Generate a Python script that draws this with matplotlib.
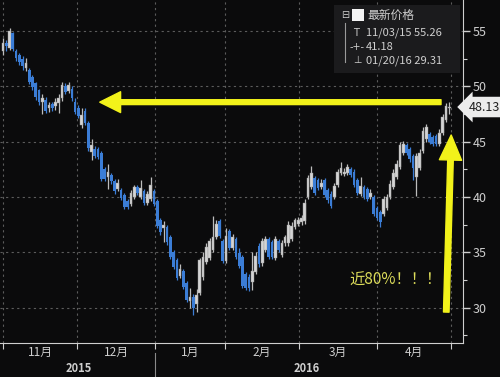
import numpy as np
import matplotlib
matplotlib.use("Agg")
import matplotlib.pyplot as plt
import matplotlib.transforms as mtrans
from matplotlib.patches import Rectangle

plt.rcParams['font.family'] = ['Noto Sans CJK SC', 'DejaVu Sans']

# daily candles, 2015-11-02 .. 2016-04-28
opens = [53.2, 53.9, 53.5, 54.8, 53.2, 52.8, 52.5, 51.7, 51.5, 50.8, 50.3, 49.7, 48.6, 48.8, 48.0, 48.4, 48.2, 48.5,
         48.9, 50.0, 49.6, 49.8, 48.6, 48.0, 46.5, 47.8, 46.7, 44.1, 44.3, 44.3, 44.0, 42.5, 41.8, 42.0, 41.4, 40.7,
         40.6, 40.2, 39.6, 39.4, 40.0, 40.9, 40.0, 40.5, 39.5, 39.8, 40.5, 39.6, 37.9, 37.2, 37.3, 36.4, 35.0, 34.3,
         32.9, 33.3, 32.2, 30.6, 31.0, 30.3, 31.3, 32.8, 34.1, 34.5, 35.2, 36.4, 37.8, 36.0, 34.2, 36.9, 35.4, 36.2,
         34.9, 34.6, 33.0, 32.8, 32.3, 33.2, 35.6, 34.0, 35.2, 36.2, 35.9, 34.5, 36.0, 34.8, 35.8, 35.8, 36.2, 37.3,
         37.6, 37.7, 37.8, 40.0, 40.9, 41.7, 41.5, 40.9, 41.5, 40.6, 40.3, 40.0, 41.1, 42.2, 42.1, 42.2, 42.5, 42.3,
         41.5, 40.3, 40.9, 40.7, 40.0, 40.0, 39.0, 38.6, 38.5, 39.0, 40.0, 40.9, 41.8, 42.7, 44.0, 44.7, 44.3, 43.7,
         41.8, 42.6, 44.2, 45.2, 45.7, 45.4, 45.5, 44.8, 45.8, 47.0, 48.0]
closes = [53.9, 53.6, 55.0, 53.4, 52.6, 52.2, 51.8, 52.1, 50.4, 49.9, 49.0, 48.6, 48.9, 47.8, 48.3, 48.0, 48.6, 48.9,
          50.1, 49.5, 50.1, 48.9, 47.7, 47.3, 47.4, 46.7, 44.4, 44.7, 43.7, 43.6, 41.6, 41.6, 42.3, 41.4, 40.5, 41.3,
          39.9, 39.1, 39.1, 40.4, 40.9, 40.4, 40.8, 39.5, 40.3, 41.1, 39.4, 37.4, 36.8, 37.5, 35.9, 34.6, 33.7, 32.7,
          33.5, 31.9, 30.7, 31.0, 30.0, 31.1, 34.3, 34.6, 35.5, 36.0, 36.4, 37.6, 36.5, 34.2, 36.5, 35.4, 36.4, 34.6,
          33.8, 32.0, 31.8, 31.8, 33.3, 34.7, 33.9, 36.0, 36.2, 34.6, 34.6, 36.2, 35.2, 35.8, 36.4, 37.5, 37.4, 37.9,
          37.9, 38.1, 39.5, 41.7, 42.2, 40.4, 40.8, 41.3, 40.2, 39.7, 39.2, 41.0, 42.3, 42.6, 42.3, 42.7, 42.0, 41.1,
          40.4, 41.0, 40.0, 39.8, 40.4, 38.5, 38.1, 37.7, 39.8, 40.0, 41.2, 42.2, 43.0, 44.7, 44.8, 44.0, 43.4, 42.6,
          43.7, 44.0, 46.0, 46.3, 45.0, 44.8, 44.8, 45.8, 47.2, 48.2, 48.13]
highs = [54.4, 54.2, 55.26, 54.9, 53.4, 53.0, 52.7, 52.6, 51.7, 51.0, 50.4, 49.8, 49.3, 49.0, 48.6, 48.6, 48.9, 49.3,
         50.4, 50.3, 50.4, 50.0, 48.9, 48.3, 48.0, 48.0, 46.9, 45.2, 44.6, 44.5, 44.2, 42.7, 43.0, 42.2, 41.6, 41.6,
         40.8, 40.4, 39.8, 40.6, 41.1, 41.1, 41.5, 40.7, 40.5, 41.8, 40.7, 39.8, 38.1, 37.8, 37.5, 36.6, 35.2, 34.5,
         33.9, 33.5, 32.4, 31.8, 31.2, 31.7, 34.5, 35.0, 35.8, 36.3, 38.3, 37.9, 38.0, 36.2, 37.2, 37.1, 36.7, 36.4,
         35.4, 34.8, 33.2, 33.0, 35.0, 35.0, 35.8, 36.3, 36.5, 36.4, 36.1, 36.5, 36.2, 36.1, 36.6, 37.8, 37.7, 38.1,
         38.2, 38.4, 39.8, 42.0, 42.8, 41.9, 41.7, 41.6, 41.7, 40.8, 40.5, 41.3, 42.5, 43.2, 42.6, 43.0, 42.7, 42.5,
         41.7, 41.8, 41.1, 40.9, 40.7, 40.2, 39.2, 38.8, 40.1, 40.3, 41.5, 42.5, 43.3, 45.0, 45.1, 44.9, 44.5, 43.9,
         44.0, 44.3, 46.3, 46.6, 45.9, 45.6, 45.7, 46.1, 47.5, 48.5, 48.6]
lows = [52.8, 53.2, 53.3, 53.2, 52.3, 51.9, 51.5, 51.4, 50.2, 49.7, 48.8, 48.3, 47.5, 47.6, 47.7, 47.8, 47.9, 47.6,
        48.7, 49.3, 49.4, 48.7, 47.5, 47.1, 46.2, 46.5, 44.2, 43.3, 43.5, 43.4, 41.4, 41.4, 40.7, 41.2, 40.3, 40.5,
        39.7, 38.9, 38.9, 39.2, 39.8, 40.2, 39.8, 39.3, 39.3, 39.6, 39.2, 37.2, 36.6, 35.9, 35.7, 34.4, 33.5, 32.5,
        32.7, 31.7, 30.5, 30.0, 29.31, 29.6, 31.1, 32.5, 33.9, 34.3, 35.0, 36.2, 36.3, 34.0, 34.0, 35.2, 35.2, 34.4,
        33.6, 31.8, 31.6, 31.5, 31.6, 33.0, 33.7, 33.8, 35.0, 34.4, 34.4, 34.3, 35.0, 34.6, 35.6, 35.6, 36.0, 37.1,
        37.4, 37.5, 37.6, 39.8, 40.7, 40.2, 40.6, 40.7, 40.0, 39.5, 39.0, 39.8, 40.9, 42.0, 41.9, 42.0, 41.8, 40.9,
        40.2, 40.1, 39.8, 39.6, 39.8, 38.3, 37.9, 37.3, 38.3, 38.8, 39.8, 40.7, 41.6, 42.5, 43.8, 43.8, 43.2, 41.5,
        40.1, 42.4, 44.0, 45.0, 44.8, 44.6, 44.6, 44.6, 45.6, 46.8, 47.5]

# month boundaries (trading-day index) and labels
month_starts = [0, 22.6, 46.3, 67.7, 90.2, 114.0, 136.6]
month_labels = ['11月', '12月', '1月', '2月', '3月', '4月']
year_labels = ['2015', '2016']
year_pos = [23.0, 92.5]

legend_title = '最新价格'
high_text = '11/03/15 55.26'
avg_text = '41.18'
low_text = '01/20/16 29.31'
last_price = 48.13
note = '近80%！！！'

bg = '#0b0b0c'
up_c = '#d4d4d4'
dn_c = '#3b7dd6'
txt_c = '#cfcfcf'
yellow = '#f2f21a'

x = np.arange(len(closes))
o = np.array(opens)
c = np.array(closes)
h = np.array(highs)
l = np.array(lows)
up = c >= o

fig = plt.figure(figsize=(5, 3.77), dpi=100, facecolor=bg)
ax = fig.add_axes([0, 0.090, 0.926, 0.910])
ax.set_facecolor(bg)

# wicks then bodies
ax.vlines(x[up], l[up], h[up], color='#bdbdbd', linewidth=0.9, zorder=2)
ax.vlines(x[~up], l[~up], h[~up], color=dn_c, linewidth=0.9, zorder=2)
ax.bar(x[up], c[up] - o[up], bottom=o[up], width=0.82, color=up_c, edgecolor='#9a9a9a', linewidth=0.3, zorder=3)
ax.bar(x[~up], c[~up] - o[~up], bottom=o[~up], width=0.82, color=dn_c, linewidth=0, zorder=3)

ax.set_xlim(-0.9, 140.2)
ax.set_ylim(26.8, 57.8)

# axes styling
for s in ['top', 'left']:
    ax.spines[s].set_visible(False)
ax.spines['bottom'].set_color(txt_c)
ax.spines['right'].set_color(txt_c)
ax.yaxis.tick_right()
ax.set_yticks([30, 35, 40, 45, 50, 55])
ax.set_yticks([27.5, 32.5, 37.5, 42.5, 47.5, 52.5], minor=True)
ax.tick_params(axis='y', which='major', colors=txt_c, labelsize=9, length=5, width=1, pad=2)
ax.tick_params(axis='y', which='minor', colors=txt_c, length=3, width=0.8)
ax.set_xticks(month_starts)
ax.tick_params(axis='x', colors=txt_c, length=4, width=0.8, labelbottom=False)
ax.grid(True, color='#5c5c5c', linestyle=(0, (2, 3)), linewidth=0.8)
ax.set_axisbelow(True)

# month / year labels under the axis
trans = mtrans.blended_transform_factory(ax.transData, ax.transAxes)
for i, lab in enumerate(month_labels):
    mid = (month_starts[i] + month_starts[i + 1]) / 2
    ax.text(mid, -0.027, lab, transform=trans, ha='center', va='center', color=txt_c, fontsize=8.5)
for pos, lab in zip(year_pos, year_labels):
    ax.text(pos, -0.073, lab, transform=trans, ha='center', va='center', color=txt_c, fontsize=8, fontweight='bold')
ax.plot([month_starts[2], month_starts[2]], [-0.028, -0.10], transform=trans, color='#8a8a8a',
        linewidth=0.8, clip_on=False)

# last price tag
ytrans = mtrans.blended_transform_factory(ax.transAxes, ax.transData)
ax.text(1.012, last_price, '%.2f' % last_price, transform=ytrans, ha='left', va='center', fontsize=9,
        color='#202020', bbox=dict(boxstyle='larrow,pad=0.3', fc='#ececec', ec='none'), clip_on=False)

# yellow arrows
ax.annotate('', xy=(29.5, 48.57), xytext=(133.5, 48.57),
            arrowprops=dict(arrowstyle='simple,head_length=1.5,head_width=1.5,tail_width=0.35',
                            color=yellow, shrinkA=0, shrinkB=0, mutation_scale=10))
ax.annotate('', xy=(136.6, 45.6), xytext=(135.1, 29.6),
            arrowprops=dict(arrowstyle='simple,head_length=1.8,head_width=1.6,tail_width=0.4',
                            color=yellow, shrinkA=0, shrinkB=0, mutation_scale=10))
ax.text(105.6, 32.5, note, color='#dcdc5a', fontsize=11, ha='left', va='center')

# legend box at top right
fig.patches.append(Rectangle((0.668, 0.806), 0.252, 0.181, transform=fig.transFigure,
                             facecolor='#1b1b1d', edgecolor='none', zorder=5))
fig.text(0.682, 0.960, '⊟', color=txt_c, fontsize=7, ha='left', va='center', zorder=6, family='DejaVu Sans')
fig.patches.append(Rectangle((0.704, 0.944), 0.024, 0.032, transform=fig.transFigure,
                             facecolor='#f4f4f4', edgecolor='none', zorder=6))
fig.text(0.734, 0.960, legend_title, color=txt_c, fontsize=8.5, ha='left', va='center', zorder=6)
fig.lines.append(plt.Line2D([0.690, 0.690], [0.940, 0.836], transform=fig.transFigure, color='#9a9a9a',
                            linewidth=0.8, zorder=6))
fig.text(0.706, 0.912, 'T', color=txt_c, fontsize=7, ha='left', va='center', zorder=6, family='DejaVu Sans')
fig.text(0.732, 0.912, high_text, color=txt_c, fontsize=8, ha='left', va='center', zorder=6)
fig.text(0.700, 0.876, '-+-', color=txt_c, fontsize=7, ha='left', va='center', zorder=6, family='DejaVu Sans')
fig.text(0.732, 0.876, avg_text, color=txt_c, fontsize=8, ha='left', va='center', zorder=6)
fig.text(0.706, 0.840, '⊥', color=txt_c, fontsize=7, ha='left', va='center', zorder=6, family='DejaVu Sans')
fig.text(0.732, 0.840, low_text, color=txt_c, fontsize=8, ha='left', va='center', zorder=6)

fig.savefig('out.png', dpi=100, facecolor=bg)
